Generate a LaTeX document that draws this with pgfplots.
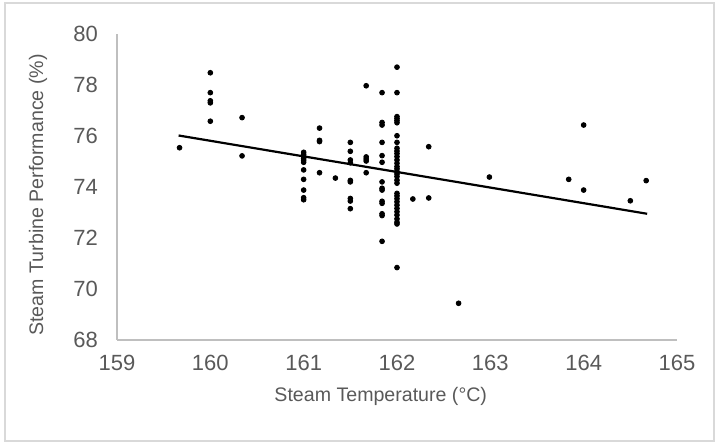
\documentclass[border=0pt]{standalone}
\usepackage{fontspec}
\setmainfont{Liberation Sans}
\usepackage{pgfplots}
\pgfplotsset{compat=1.18}
\definecolor{txtgray}{RGB}{89,89,89}
\definecolor{axgray}{RGB}{191,191,191}
\definecolor{bordergray}{RGB}{217,217,217}
\begin{document}
\begin{tikzpicture}
\path[use as bounding box] (0,0) rectangle (359.5pt,222.5pt);
\draw[bordergray, line width=0.6pt] (2.5pt,2pt) rectangle (357pt,221pt);
\begin{axis}[
  at={(58.5pt,52.5pt)}, anchor=south west,
  width=280pt, height=153pt, scale only axis,
  xmin=159, xmax=165, ymin=68, ymax=80,
  xtick={159,160,...,165}, ytick={68,70,...,80},
  axis lines*=left,
  axis line style={axgray, line width=0.6pt},
  major tick length=0pt,
  tick style={draw=none},
  /pgf/number format/assume math mode=true,
  /pgf/number format/1000 sep={},
  ticklabel style={font=\fontsize{11pt}{13pt}\selectfont, text=txtgray},
  yticklabel style={xshift=-6pt},
  xticklabel style={yshift=-4pt},
  xlabel={Steam Temperature (°C)},
  ylabel={Steam Turbine Performance (\%)},
  label style={font=\fontsize{9.8pt}{11pt}\selectfont, text=txtgray},
  xlabel style={at={(axis description cs:0.471,-0.186)}, anchor=center},
  ylabel style={at={(axis description cs:-0.141,0.474)}, anchor=center, rotate=0},
  clip=false,
]
\addplot[only marks, mark=*, mark size=1.2pt, black] table {
159.67 75.54
160.0 78.48
160.0 77.70
160.0 77.38
160.0 77.30
160.0 76.58
160.34 76.72
160.34 75.22
161.0 75.36
161.0 75.28
161.0 75.20
161.0 75.12
161.0 75.05
161.0 74.97
161.0 74.67
161.0 74.30
161.0 73.88
161.0 73.58
161.0 73.50
161.17 76.31
161.17 75.83
161.17 75.78
161.17 74.56
161.34 74.35
161.5 75.75
161.5 75.40
161.5 75.06
161.5 74.95
161.5 74.26
161.5 74.20
161.5 73.55
161.5 73.45
161.5 73.15
161.67 77.97
161.67 75.18
161.67 75.10
161.67 75.02
161.67 74.56
161.84 77.70
161.84 76.53
161.84 76.43
161.84 75.75
161.84 75.23
161.84 74.97
161.84 74.20
161.84 73.95
161.84 73.88
161.84 73.44
161.84 73.36
161.84 72.95
161.84 72.88
161.84 71.87
162.0 78.70
162.0 77.70
162.0 76.76
162.0 76.68
162.0 76.60
162.0 76.52
162.0 76.01
162.0 75.75
162.0 75.52
162.0 75.41
162.0 75.31
162.0 75.19
162.0 75.06
162.0 74.93
162.0 74.80
162.0 74.71
162.0 74.60
162.0 74.51
162.0 74.41
162.0 74.27
162.0 74.15
162.0 73.75
162.0 73.65
162.0 73.54
162.0 73.42
162.0 73.29
162.0 73.16
162.0 73.03
162.0 72.90
162.0 72.75
162.0 72.62
162.0 72.55
162.0 70.84
162.17 73.53
162.34 75.58
162.34 73.57
162.66 69.44
162.99 74.39
163.84 74.30
164.0 76.43
164.0 73.88
164.5 73.46
164.67 74.25
};
\addplot[black, line width=1.1pt, mark=none] coordinates {(159.66,76.02) (164.68,72.95)};
\end{axis}
\end{tikzpicture}
\end{document}
